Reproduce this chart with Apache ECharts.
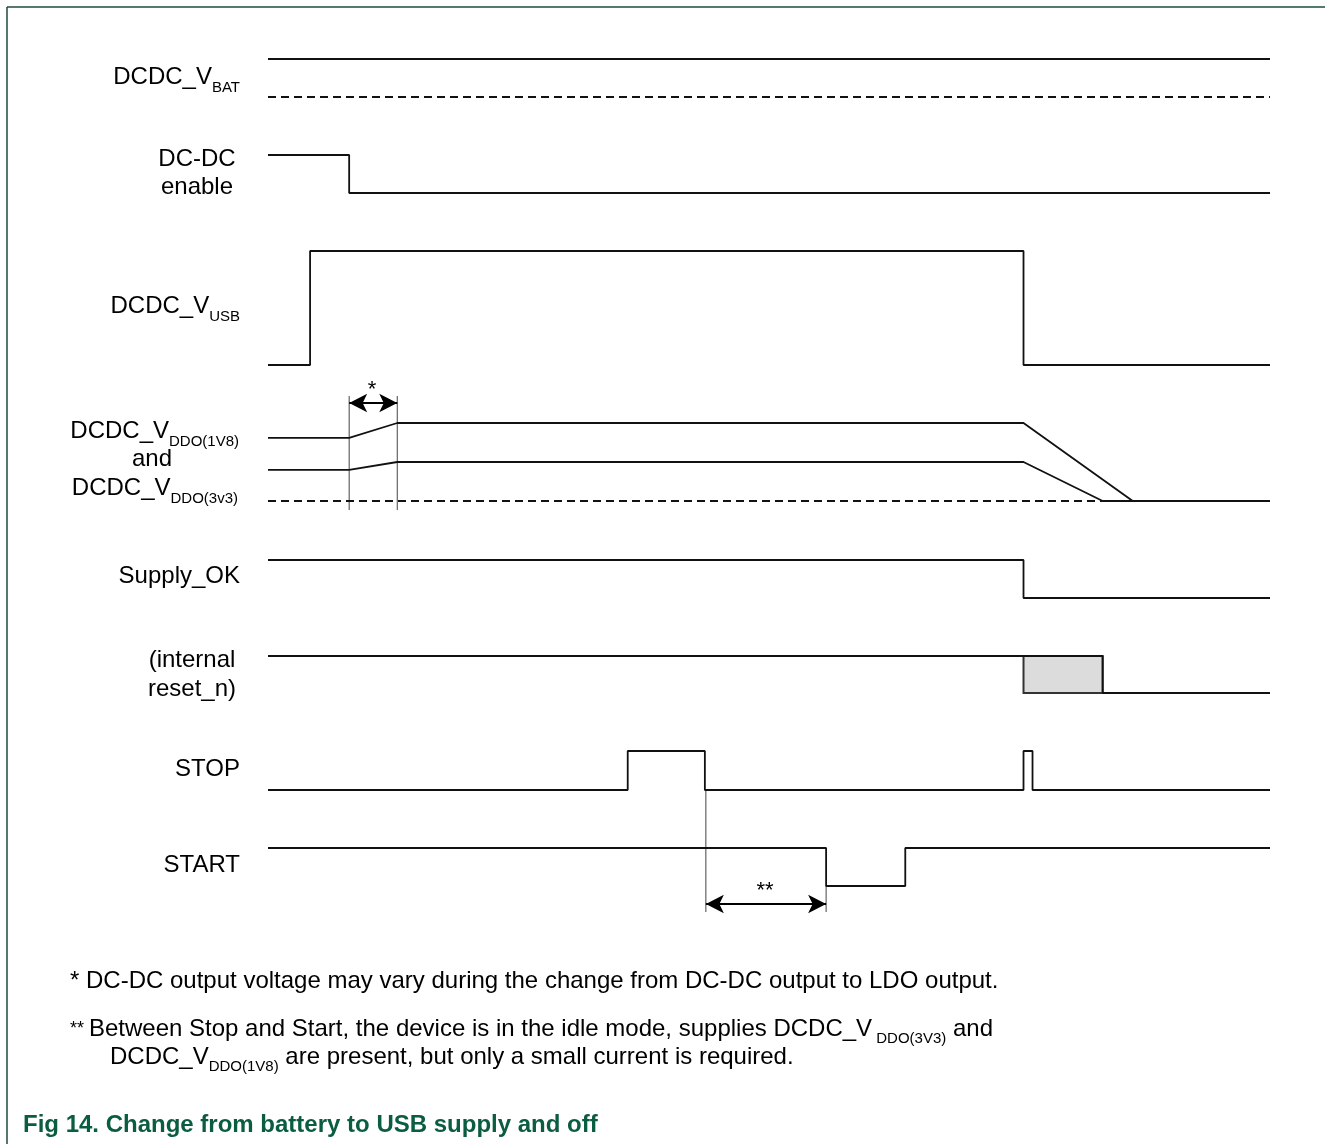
<!DOCTYPE html>
<html>
<head>
<meta charset="utf-8">
<title>Fig 14. Change from battery to USB supply and off</title>
<script src="https://cdn.jsdelivr.net/npm/echarts@6/dist/echarts.min.js"></script>
<style>
html, body { margin: 0; padding: 0; background: #fff; }
#chart { width: 1325px; height: 1144px; }
</style>
</head>
<body>
<div id="chart"></div>
<script>
// time runs 0..1000 across the signal area, levels are 0 (low) .. 1 (high)
var vbatT = [0, 1000];
var vbatL = [1, 1];
var vbatRefT = [0, 1000];
var vbatRefL = [0, 0];
var enableT = [0, 81, 81, 1000];
var enableL = [1, 1, 0, 0];
var vusbT = [0, 42, 42, 754, 754, 1000];
var vusbL = [0, 0, 1, 1, 0, 0];
var v1v8T = [0, 81, 129, 754, 863];
var v1v8L = [0.81, 0.81, 1, 1, 0];
var v3v3T = [0, 81, 129, 754, 833, 1000];
var v3v3L = [0.40, 0.40, 0.50, 0.50, 0, 0];
var vddoRefT = [0, 833];
var vddoRefL = [0, 0];
var supplyT = [0, 754, 754, 1000];
var supplyL = [1, 1, 0, 0];
var resetT = [0, 754, 833, 833, 1000];
var resetL = [1, 1, 1, 0, 0];
var resetWindow = [754, 833];
var stopT = [0, 359, 359, 436, 436, 754, 754, 763, 763, 1000];
var stopL = [0, 0, 1, 1, 0, 0, 1, 1, 0, 0];
var startT = [0, 557, 557, 636, 636, 1000];
var startL = [1, 1, 0, 0, 1, 1];
var starSpan = [81, 129];
var idleSpan = [437, 557];

// layout: pixel rows [y of high level, y of low level]
var rowVbat = [59, 97];
var rowEnable = [155, 193];
var rowVusb = [251, 365];
var rowVddo = [423, 501];
var rowOk = [560, 598];
var rowReset = [656, 693];
var rowStop = [751, 790];
var rowStart = [848, 886];

var X0 = 268, PX = 1.002;
var FONT = '"Liberation Sans", Arial, Helvetica, sans-serif';
var INK = '#111';

function yOf(row, level) {
  return row[1] - level * (row[1] - row[0]);
}
function wave(t, l, row) {
  return t.map(function (v, i) { return [v, yOf(row, l[i])]; });
}
function line(data, opt) {
  opt = opt || {};
  return {
    type: 'line',
    data: data,
    symbol: 'none',
    silent: true,
    animation: false,
    z: opt.z || 3,
    lineStyle: {
      color: opt.color || INK,
      width: opt.width || 1.8,
      type: opt.type || 'solid'
    },
    markLine: opt.markLine,
    markArea: opt.markArea
  };
}
function arrow(t1, t2, y) {
  return {
    silent: true,
    animation: false,
    symbol: ['arrow', 'arrow'],
    symbolSize: [14, 18],
    label: { show: false },
    lineStyle: { color: '#000', width: 1.8, type: 'solid' },
    data: [[{ coord: [t1, y] }, { coord: [t2, y] }]]
  };
}

var dash = [8, 5];
var series = [
  line(wave(vbatT, vbatL, rowVbat)),
  line(wave(vbatRefT, vbatRefL, rowVbat), { type: dash }),
  line(wave(enableT, enableL, rowEnable)),
  line(wave(vusbT, vusbL, rowVusb)),
  line(wave(v1v8T, v1v8L, rowVddo), { markLine: arrow(starSpan[0], starSpan[1], 403) }),
  line(wave(v3v3T, v3v3L, rowVddo)),
  line(wave(vddoRefT, vddoRefL, rowVddo), { type: dash }),
  line([[starSpan[0], 396], [starSpan[0], 510]], { width: 1, color: '#444', z: 2 }),
  line([[starSpan[1], 396], [starSpan[1], 510]], { width: 1, color: '#444', z: 2 }),
  line(wave(supplyT, supplyL, rowOk)),
  line(wave(resetT, resetL, rowReset), {
    markArea: {
      silent: true,
      animation: false,
      itemStyle: { color: '#dcdcdc', borderColor: '#333', borderWidth: 2 },
      data: [[{ coord: [resetWindow[0], rowReset[0]] }, { coord: [resetWindow[1], rowReset[1]] }]]
    }
  }),
  line(wave(stopT, stopL, rowStop)),
  line(wave(startT, startL, rowStart), { markLine: arrow(idleSpan[0], idleSpan[1], 904) }),
  line([[idleSpan[0], rowStop[1]], [idleSpan[0], 912]], { width: 1, color: '#444', z: 2 }),
  line([[idleSpan[1], rowStart[1]], [idleSpan[1], 912]], { width: 1, color: '#444', z: 2 })
];

var mainSt = { fontSize: 24, lineHeight: 36, verticalAlign: 'middle', fontFamily: FONT, fill: '#000' };
var subSt = { fontSize: 15, lineHeight: 16, verticalAlign: 'bottom', fontFamily: FONT, fill: '#000' };
var noteMain = { fontSize: 24, lineHeight: 34, verticalAlign: 'middle', fontFamily: FONT, fill: '#000' };
var noteSub = { fontSize: 15, lineHeight: 16, verticalAlign: 'bottom', fontFamily: FONT, fill: '#000' };
var noteStar = { fontSize: 18, lineHeight: 34, verticalAlign: 'middle', fontFamily: FONT, fill: '#000' };

function label(text, x, y, align, size) {
  return {
    type: 'text', x: x, y: y, silent: true,
    style: {
      text: text, fontSize: size || 24, fontFamily: FONT, fill: '#000',
      align: align || 'right', verticalAlign: 'middle'
    }
  };
}
function rich(text, x, y, align, styles) {
  return {
    type: 'text', x: x, y: y, silent: true,
    style: { text: text, align: align, verticalAlign: 'middle', rich: styles }
  };
}
function subLabel(main, sub, x, y) {
  return rich('{m|' + main + '}{s|' + sub + '}', x, y, 'right', { m: mainSt, s: subSt });
}

var graphic = [
  { type: 'line', silent: true, shape: { x1: 7, y1: 7, x2: 1325, y2: 7 }, style: { stroke: '#1d4d3c', lineWidth: 1.5 } },
  { type: 'line', silent: true, shape: { x1: 7, y1: 7, x2: 7, y2: 1144 }, style: { stroke: '#1d4d3c', lineWidth: 1.5 } },
  subLabel('DCDC_V', 'BAT', 240, 77),
  label('DC-DC', 197, 159, 'center'),
  label('enable', 197, 187, 'center'),
  subLabel('DCDC_V', 'USB', 240, 306),
  subLabel('DCDC_V', 'DDO(1V8)', 239, 431),
  label('and', 152, 459, 'center'),
  subLabel('DCDC_V', 'DDO(3v3)', 238, 488),
  label('Supply_OK', 240, 576),
  label('(internal', 192, 660, 'center'),
  label('reset_n)', 192, 689, 'center'),
  label('STOP', 240, 769),
  label('START', 240, 865),
  label('*', 372, 390, 'center', 22),
  label('**', 765, 891, 'center', 22),
  label('* DC-DC output voltage may vary during the change from DC-DC output to LDO output.', 70, 981, 'left', 24),
  rich('{a|** }{m|Between Stop and Start, the device is in the idle mode, supplies DCDC_V}{s| DDO(3V3)}{m| and}',
    70, 1029, 'left', { a: noteStar, m: noteMain, s: noteSub }),
  rich('{m|DCDC_V}{s|DDO(1V8)}{m| are present, but only a small current is required.}',
    110, 1057, 'left', { m: noteMain, s: noteSub }),
  {
    type: 'text', x: 23, y: 1125, silent: true,
    style: {
      text: 'Fig 14. Change from battery to USB supply and off',
      fontSize: 24, fontWeight: 'bold', fontFamily: FONT, fill: '#0b5d3f',
      align: 'left', verticalAlign: 'middle'
    }
  }
];

var chart = echarts.init(document.getElementById('chart'));
chart.setOption({
  animation: false,
  backgroundColor: '#fff',
  grid: { left: 0, right: 0, top: 0, bottom: 0 },
  xAxis: {
    type: 'value',
    min: -X0 / PX,
    max: (1325 - X0) / PX,
    show: false
  },
  yAxis: {
    type: 'value',
    min: 0,
    max: 1144,
    inverse: true,
    show: false
  },
  graphic: graphic,
  series: series
});
</script>
</body>
</html>
